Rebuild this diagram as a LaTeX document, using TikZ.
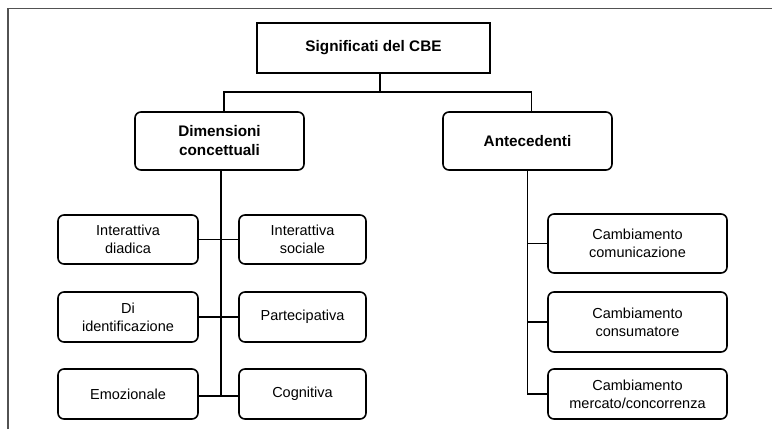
\documentclass[tikz,border=0pt]{standalone}
\usepackage{fontspec}
\setmainfont{Liberation Sans}
\begin{document}
\begin{tikzpicture}[x=1pt,y=-1pt,
  box/.style={draw, line width=1.6pt, rounded corners=6pt, align=center, inner sep=0pt,
    font=\fontsize{14.5}{18}\selectfont},
  bbox/.style={box, font=\fontsize{15.3}{19}\selectfont\bfseries},
  conn/.style={line width=1.6pt}]
\useasboundingbox (0,0) rectangle (772,429);
\draw[line width=1.2pt, color=black!68] (8,429) -- (8,8.5) -- (772,8.5);
% top
\node[bbox, rounded corners=0pt, minimum width=233pt, minimum height=50pt] (top) at (373.5,48) {Significati del CBE};
\node[bbox, minimum width=169pt, minimum height=58pt] (dim) at (219.5,141) {Dimensioni\\concettuali};
\node[bbox, minimum width=169pt, minimum height=58pt] (ant) at (527.5,141) {Antecedenti};
% left children
\node[box, minimum width=140pt, minimum height=49pt] (l1) at (128,239.5) {Interattiva\\diadica};
\node[box, minimum width=140pt, minimum height=50pt] (l2) at (128,317) {Di\\identificazione};
\node[box, minimum width=140pt, minimum height=50pt] (l3) at (128,394) {Emozionale};
\node[box, minimum width=127pt, minimum height=49pt] (r1) at (302.5,239.5) {Interattiva\\sociale};
\node[box, minimum width=127pt, minimum height=50pt] (r2) at (302.5,317) {Partecipativa};
\node[box, minimum width=127pt, minimum height=50pt] (r3) at (302.5,394) {Cognitiva};
% right children
\node[box, minimum width=179pt, minimum height=59pt] (c1) at (637.5,243.5) {Cambiamento\\comunicazione};
\node[box, minimum width=179pt, minimum height=60pt] (c2) at (637.5,322) {Cambiamento\\consumatore};
\node[box, minimum width=179pt, minimum height=50pt] (c3) at (637.5,394) {Cambiamento\\mercato/concorrenza};
% connectors
\coordinate (jt) at (380,92);
\draw[conn] (top.south -| jt) -- (jt);
\draw[conn] ([xshift=4.5pt]dim.north) |- (jt) -| ([xshift=4pt]ant.north);
\coordinate (lb) at (221,396);
\draw[conn] (dim.south -| lb) -- (lb);
\draw[conn] (l1.east) -- (r1.west);
\draw[conn] (l2.east) -- (r2.west);
\draw[conn] ([yshift=-2pt]l3.east) -- ([yshift=-2pt]r3.west);
\draw[conn] (ant.south) -- (ant.south |- c3.west) -- (c3.west);
\draw[conn] (c1.west) -- (c1.west -| ant.south);
\draw[conn] (c2.west) -- (c2.west -| ant.south);
\end{tikzpicture}
\end{document}
